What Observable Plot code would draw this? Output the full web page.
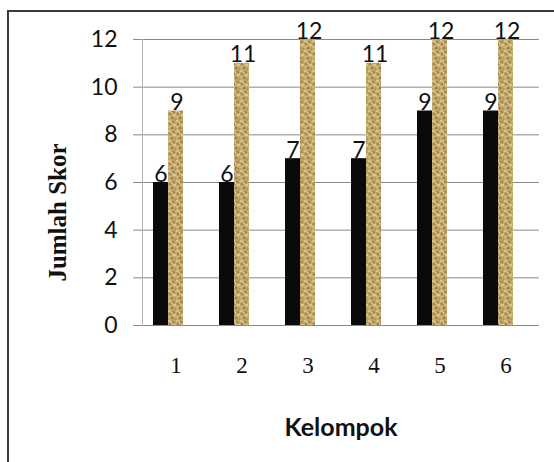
<!DOCTYPE html>
<html>
<head>
<meta charset="utf-8">
<script src="https://cdn.jsdelivr.net/npm/d3@7"></script>
<script src="https://cdn.jsdelivr.net/npm/@observablehq/plot@0.6"></script>
<style>
  html, body { margin: 0; padding: 0; background: #fff; }
  #wrap { position: relative; width: 554px; height: 462px; overflow: hidden; }
  #border { position: absolute; left: 7px; top: 10px; right: -4px; bottom: -4px;
            border-top: 2px solid #3a3a3a; border-left: 2px solid #3a3a3a; pointer-events: none; }
</style>
</head>
<body>
<div id="wrap"><div id="border"></div></div>
<script>
const groups = ["1", "2", "3", "4", "5", "6"];
const seriesBlack = [6, 6, 7, 7, 9, 9];
const seriesTan = [9, 11, 12, 11, 12, 12];
const yTicks = [0, 2, 4, 6, 8, 10, 12];
const yLabel = "Jumlah Skor";
const xLabel = "Kelompok";

const dataBlack = groups.map((g, i) => ({group: g, value: seriesBlack[i]}));
const dataTan = groups.map((g, i) => ({group: g, value: seriesTan[i]}));

const sans = "Lato, 'Open Sans', sans-serif";
const serif = "'Liberation Serif', 'DejaVu Serif', serif";

const chart = Plot.plot({
  width: 554,
  height: 462,
  marginTop: 39,
  marginRight: 15,
  marginBottom: 137,
  marginLeft: 142,
  style: {fontFamily: sans, background: "transparent", overflow: "visible"},
  x: {type: "band", domain: groups, paddingInner: 0.773, paddingOuter: 0.3865},
  y: {domain: [0, 12]},
  marks: [
    Plot.ruleY(yTicks, {stroke: "#8a8a8a", strokeWidth: 1}),
    Plot.frame({anchor: "left", stroke: "#b4b4b4"}),
    Plot.axisY({ticks: yTicks, tickSize: 9, text: null, stroke: "#8a8a8a", label: null}),
    Plot.axisY({ticks: yTicks, tickSize: 0, tickPadding: 25, fontSize: 23, fontFamily: sans, fill: "#111", label: null}),
    Plot.axisX({tickSize: 0, tickPadding: 31, fontSize: 23, fontFamily: serif, fill: "#111", label: null}),
    Plot.barY(dataBlack, {x: "group", y: "value", fill: "#0a0a0a", dx: -15}),
    Plot.barY(dataTan, {x: "group", y: "value", fill: "url(#tex)", dx: 0}),
    Plot.text(dataBlack, {x: "group", y: "value", text: d => String(d.value), dx: -15, dy: -1,
      lineAnchor: "bottom", fontSize: 23, fontFamily: sans, fill: "#111"}),
    Plot.text(dataTan, {x: "group", y: "value", text: d => String(d.value), dx: 1, dy: -1,
      lineAnchor: "bottom", fontSize: 23, fontFamily: sans, fill: "#111"}),
    Plot.text([yLabel], {frameAnchor: "left", dx: -85, dy: 30, rotate: -90, textAnchor: "middle",
      fontSize: 25, fontWeight: "bold", fontFamily: serif, fill: "#111"}),
    Plot.text([xLabel], {frameAnchor: "bottom", dy: 102, fontSize: 25, fontWeight: "bold",
      fontFamily: sans, fill: "#111", lineAnchor: "middle", textAnchor: "middle"})
  ]
});

// burlap-like texture for the tan bars
const svg = d3.select(chart);
const defs = svg.insert("defs", ":first-child");
const pat = defs.append("pattern").attr("id", "tex").attr("patternUnits", "userSpaceOnUse")
  .attr("width", 8).attr("height", 10);
pat.append("rect").attr("width", 8).attr("height", 10).attr("fill", "#c3a66a");
const spots = [
  [0, 0, 3, 2, "#d6c08c"], [4, 1, 3, 2, "#a88c55"], [1, 3, 2, 2, "#9e824c"],
  [5, 4, 3, 2, "#dac593"], [0, 6, 3, 2, "#cdb47c"], [3, 7, 2, 2, "#98794a"],
  [6, 8, 2, 2, "#b39860"], [3, 2, 1, 2, "#e0cd9e"]
];
spots.forEach(([x, y, w, h, c]) => pat.append("rect").attr("x", x).attr("y", y)
  .attr("width", w).attr("height", h).attr("fill", c));

document.getElementById("wrap").appendChild(chart);
</script>
</body>
</html>
